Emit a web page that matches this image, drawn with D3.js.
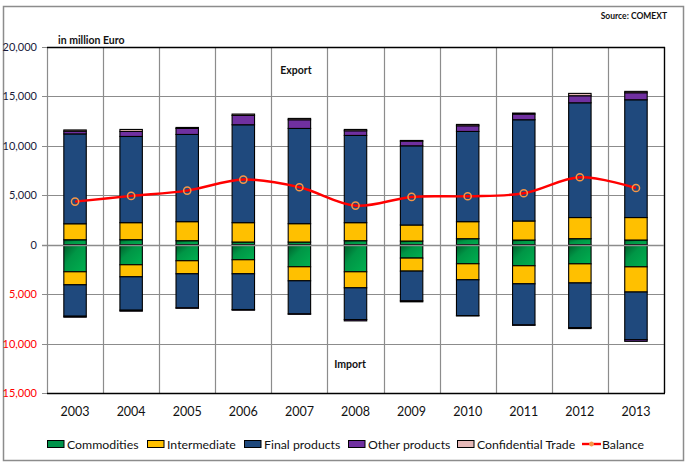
<!DOCTYPE html>
<html>
<head>
<meta charset="utf-8">
<script src="https://cdn.jsdelivr.net/npm/d3@7"></script>
<style>
  html, body { margin: 0; padding: 0; background: #fff; }
  svg { display: block; font-family: Lato, "Open Sans", sans-serif; }
</style>
</head>
<body>
<svg id="chart" width="687" height="465"></svg>
<script>
// ---------------- DATA ----------------
const years = ["2003","2004","2005","2006","2007","2008","2009","2010","2011","2012","2013"];

// Export (positive, million Euro)
const exportCommodities   = [500, 507, 406, 270, 270, 406, 372, 608, 473, 611, 475];
const exportIntermediate  = [1620, 1724, 1926, 1961, 1859, 1825, 1622, 1724, 1927, 2138, 2274];
const exportFinal         = [9090, 8720, 8822, 9903, 9633, 8822, 8011, 9126, 10241, 11608, 11913];
const exportOther         = [270, 507, 608, 947, 879, 473, 473, 575, 575, 712, 713];
const exportConfidential  = [130, 203, 100, 135, 135, 135, 68, 135, 101, 238, 136];

// Import (negative, million Euro)
const importCommodities   = [-2738, -2028, -1622, -1521, -2231, -2738, -1352, -1927, -2129, -1935, -2240];
const importIntermediate  = [-1318, -1217, -1319, -1420, -1419, -1622, -1318, -1622, -1826, -1934, -2546];
const importFinal         = [-3177, -3380, -3447, -3616, -3347, -3211, -3008, -3617, -4157, -4514, -4819];
const importOther         = [-100, -100, -40, -70, -40, -135, -100, -40, -40, -100, -170];

// Balance (export - import)
const balance = [4360, 4935, 5476, 6591, 5814, 3955, 4833, 4901, 5205, 6822, 5736];

const yTicks = [-15000, -10000, -5000, 0, 5000, 10000, 15000, 20000];

const seriesNames = ["Commodities", "Intermediate", "Final products", "Other products", "Confidential Trade", "Balance"];
const seriesColors = {
  "Commodities": "#00A650",
  "Intermediate": "#FFC000",
  "Final products": "#1F497D",
  "Other products": "#7030A0",
  "Confidential Trade": "#E6B9B8"
};

// ---------------- LAYOUT ----------------
const svg = d3.select("#chart");
const plot = { left: 47, right: 664, top: 47, bottom: 393 };

const defs = svg.append("defs");
const grad = defs.append("linearGradient").attr("id", "greenGrad")
  .attr("x1", "0").attr("y1", "0").attr("x2", "1").attr("y2", "1");
grad.append("stop").attr("offset", "0%").attr("stop-color", "#005C2A");
grad.append("stop").attr("offset", "40%").attr("stop-color", "#009646");
grad.append("stop").attr("offset", "100%").attr("stop-color", "#00B050");

// outer frame
svg.append("rect").attr("x", 3.5).attr("y", 6.5).attr("width", 680).attr("height", 454)
  .attr("fill", "#fff").attr("stroke", "#8c8c8c").attr("stroke-width", 1.5);

const x = d3.scaleBand().domain(years).range([plot.left, plot.right])
  .paddingInner(0.6).paddingOuter(0.3);
const y = d3.scaleLinear().domain([-15000, 20000]).range([plot.bottom, plot.top]);
const step = x.step();

// horizontal gridlines
svg.append("g").selectAll("line").data(yTicks).join("line")
  .attr("x1", plot.left - 5).attr("x2", plot.right)
  .attr("y1", d => Math.round(y(d)) + 0.5).attr("y2", d => Math.round(y(d)) + 0.5)
  .attr("stroke", "#8c8c8c").attr("stroke-width", 1.2);

// vertical gridlines at category boundaries
const boundaries = d3.range(years.length + 1).map(i => plot.left + i * step);
svg.append("g").selectAll("line").data(boundaries).join("line")
  .attr("x1", d => Math.round(d) + 0.5).attr("x2", d => Math.round(d) + 0.5)
  .attr("y1", plot.top).attr("y2", plot.bottom)
  .attr("stroke", "#8c8c8c").attr("stroke-width", 1.2);

// frame lines (top, right, bottom black)
svg.append("line").attr("x1", plot.left).attr("x2", plot.right + 1)
  .attr("y1", Math.round(y(20000)) + 0.5).attr("y2", Math.round(y(20000)) + 0.5)
  .attr("stroke", "#000").attr("stroke-width", 1.3);
svg.append("line").attr("x1", plot.left).attr("x2", plot.right + 1)
  .attr("y1", Math.round(y(-15000)) + 0.5).attr("y2", Math.round(y(-15000)) + 0.5)
  .attr("stroke", "#000").attr("stroke-width", 1.3);
svg.append("line").attr("x1", Math.round(plot.right) + 0.5).attr("x2", Math.round(plot.right) + 0.5)
  .attr("y1", plot.top).attr("y2", plot.bottom)
  .attr("stroke", "#000").attr("stroke-width", 1.3);

// ---------------- BARS ----------------
const exportSeries = [
  { name: "Commodities", values: exportCommodities },
  { name: "Intermediate", values: exportIntermediate },
  { name: "Final products", values: exportFinal },
  { name: "Other products", values: exportOther },
  { name: "Confidential Trade", values: exportConfidential }
];
const importSeries = [
  { name: "Commodities", values: importCommodities },
  { name: "Intermediate", values: importIntermediate },
  { name: "Final products", values: importFinal },
  { name: "Other products", values: importOther }
];

function buildSegments(series) {
  const segs = [];
  years.forEach((yr, i) => {
    let acc = 0;
    series.forEach(s => {
      const v = s.values[i];
      segs.push({ year: yr, name: s.name, y0: acc, y1: acc + v });
      acc += v;
    });
  });
  return segs;
}
const segments = buildSegments(exportSeries).concat(buildSegments(importSeries));

const barG = svg.append("g");
barG.selectAll("rect").data(segments).join("rect")
  .attr("x", d => x(d.year))
  .attr("width", x.bandwidth())
  .attr("y", d => y(Math.max(d.y0, d.y1)))
  .attr("height", d => Math.abs(y(d.y0) - y(d.y1)))
  .attr("fill", d => d.name === "Commodities" ? "url(#greenGrad)" : seriesColors[d.name])
  .attr("stroke", "#000").attr("stroke-width", 1.1);

// zero (category axis) line drawn above bars
svg.append("line").attr("x1", plot.left - 5).attr("x2", plot.right)
  .attr("y1", Math.round(y(0)) + 0.5).attr("y2", Math.round(y(0)) + 0.5)
  .attr("stroke", "#8c8c8c").attr("stroke-width", 1.6);

// ---------------- BALANCE LINE ----------------
const cx = yr => x(yr) + x.bandwidth() / 2;
const line = d3.line().x((d, i) => cx(years[i])).y(d => y(d)).curve(d3.curveCatmullRom.alpha(0.5));
svg.append("path").datum(balance).attr("d", line)
  .attr("fill", "none").attr("stroke", "#FF0000").attr("stroke-width", 2.4);
svg.append("g").selectAll("circle").data(balance).join("circle")
  .attr("cx", (d, i) => cx(years[i])).attr("cy", d => y(d)).attr("r", 3.6)
  .attr("fill", "none").attr("stroke", "#F79646").attr("stroke-width", 1.5);

// ---------------- AXES TEXT ----------------
const fmt = d3.format(",");
svg.append("g").selectAll("text").data(yTicks).join("text")
  .attr("x", 37).attr("y", d => y(d) + 4)
  .attr("text-anchor", "end")
  .attr("font-size", 11)
  .attr("fill", d => d < 0 ? "#FF0000" : "#1a1a3a")
  .text(d => fmt(Math.abs(d)));

svg.append("g").selectAll("text").data(years).join("text")
  .attr("x", d => cx(d)).attr("y", 416)
  .attr("text-anchor", "middle").attr("font-size", 12.5).attr("fill", "#111")
  .text(d => d);

svg.append("text").attr("x", 58).attr("y", 44).attr("font-size", 10.5)
  .attr("font-weight", 700).attr("fill", "#111").text("in million Euro");
svg.append("text").attr("x", 296).attr("y", 74).attr("text-anchor", "middle")
  .attr("font-size", 10.5).attr("font-weight", 700).attr("fill", "#111").text("Export");
svg.append("text").attr("x", 350).attr("y", 368).attr("text-anchor", "middle")
  .attr("font-size", 10.5).attr("font-weight", 700).attr("fill", "#111").text("Import");
svg.append("text").attr("x", 667).attr("y", 19).attr("text-anchor", "end")
  .attr("font-size", 8.5).attr("font-weight", 700).attr("fill", "#111").text("Source: COMEXT");

// ---------------- LEGEND ----------------
const legendX = [47, 147, 244, 348, 457, 582];
const legendY = 444;
const lg = svg.append("g");
seriesNames.forEach((name, i) => {
  const gx = legendX[i];
  if (name === "Balance") {
    lg.append("line").attr("x1", gx).attr("x2", gx + 19).attr("y1", legendY).attr("y2", legendY)
      .attr("stroke", "#FF0000").attr("stroke-width", 2.4);
    lg.append("circle").attr("cx", gx + 9.5).attr("cy", legendY).attr("r", 2)
      .attr("fill", "#F79646").attr("stroke", "#F79646");
  } else {
    lg.append("rect").attr("x", gx + 0.5).attr("y", legendY - 3.5).attr("width", 16.5).attr("height", 7)
      .attr("fill", name === "Commodities" ? "#00934A" : seriesColors[name])
      .attr("stroke", "#000").attr("stroke-width", 1);
  }
  lg.append("text").attr("x", gx + 20).attr("y", legendY + 4.5)
    .attr("font-size", 12.3).attr("fill", "#111").text(name);
});
</script>
</body>
</html>
